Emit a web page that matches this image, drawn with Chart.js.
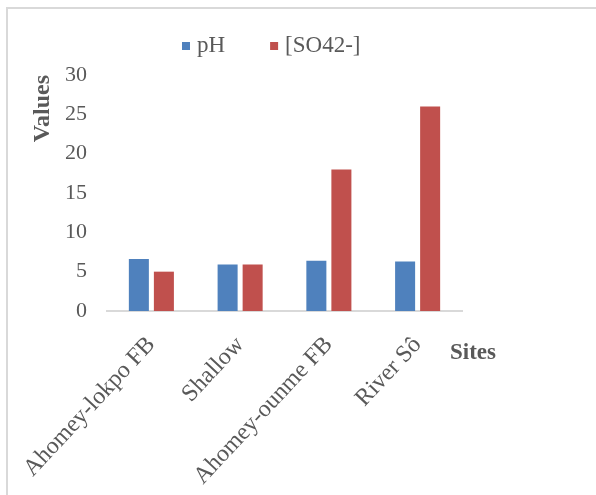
<!DOCTYPE html>
<html>
<head>
<meta charset="utf-8">
<script src="https://cdn.jsdelivr.net/npm/chart.js@4/dist/chart.umd.min.js"></script>
<style>
  html, body { margin: 0; padding: 0; background: #ffffff; overflow: hidden; }
  #frame { position: absolute; left: 6px; top: 7px; width: 620px; height: 520px;
           border-left: 2px solid #d9d9d9; border-top: 2px solid #d9d9d9; }
  #c { position: absolute; left: 0; top: 0; }
</style>
</head>
<body>
<div id="frame"></div>
<canvas id="c" width="596" height="495"></canvas>
<script>
const categories = ["Ahomey-lokpo FB", "Shallow", "Ahomey-ounme FB", "River Sô"];
const phValues = [6.6, 5.9, 6.4, 6.3];
const sulfateValues = [5.0, 5.9, 18.0, 26.0];
const seriesNames = ["pH", "[SO42-]"];
const yTicks = [0, 5, 10, 15, 20, 25, 30];
const axisTitleY = "Values";
const axisTitleX = "Sites";

const FONT = "'Liberation Serif', 'Times New Roman', serif";
const GRAY = "#595959";
const colors = ["#4f81bd", "#c0504d"];

const customLegend = {
  id: 'customLegend',
  afterDraw(chart) {
    const ctx = chart.ctx;
    ctx.save();
    ctx.font = "23px " + FONT;
    ctx.textBaseline = "middle";
    ctx.textAlign = "left";
    const y = 46;
    let x = 182;
    chart.data.datasets.forEach((ds, i) => {
      ctx.fillStyle = ds.backgroundColor;
      ctx.fillRect(x, y - 4, 8, 8);
      ctx.fillStyle = GRAY;
      ctx.fillText(ds.label, x + 15, y);
      x += 15 + ctx.measureText(ds.label).width + 45;
    });
    ctx.restore();
  }
};

const sitesTitle = {
  id: 'sitesTitle',
  afterDraw(chart) {
    const ctx = chart.ctx;
    ctx.save();
    ctx.font = "bold 23px " + FONT;
    ctx.fillStyle = GRAY;
    ctx.textBaseline = "middle";
    ctx.textAlign = "left";
    ctx.fillText(axisTitleX, chart.chartArea.right - 12, chart.chartArea.bottom + 42);
    ctx.restore();
  }
};

new Chart(document.getElementById('c'), {
  type: 'bar',
  data: {
    labels: categories,
    datasets: [
      { label: seriesNames[0], data: phValues, backgroundColor: colors[0],
        categoryPercentage: 0.564, barPercentage: 0.8 },
      { label: seriesNames[1], data: sulfateValues, backgroundColor: colors[1],
        categoryPercentage: 0.564, barPercentage: 0.8 }
    ]
  },
  options: {
    responsive: false,
    animation: false,
    devicePixelRatio: 1,
    layout: { padding: { top: 75, left: 0, right: 134, bottom: 0 } },
    plugins: {
      legend: { display: false },
      tooltip: { enabled: false }
    },
    scales: {
      x: {
        grid: { display: false, drawTicks: false },
        border: { display: true, color: "#d9d9d9", width: 2 },
        ticks: {
          color: GRAY, font: { family: FONT, size: 24 },
          maxRotation: 47, minRotation: 47, autoSkip: false, padding: 20
        },
        afterFit(s) { s.height = 184; s.paddingLeft = 0; s.paddingRight = 0; }
      },
      y: {
        min: 0, max: 30,
        afterBuildTicks(s) { s.ticks = yTicks.map(v => ({ value: v })); },
        grid: { display: false, drawTicks: false },
        border: { display: false },
        ticks: { color: GRAY, font: { family: FONT, size: 22 }, padding: 20 },
        title: {
          display: true, text: axisTitleY, align: 'end',
          color: GRAY, font: { family: FONT, size: 24, weight: 'bold' },
          padding: { top: 28, bottom: 0 }
        },
        afterFit(s) { s.width = 107; }
      }
    }
  },
  plugins: [customLegend, sitesTitle]
});
</script>
</body>
</html>
